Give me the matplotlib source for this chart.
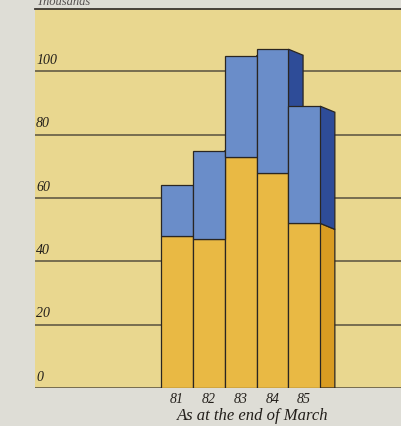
import numpy as np
import matplotlib
matplotlib.use('Agg')
import matplotlib.pyplot as plt
from matplotlib.patches import Polygon

# data (thousands)
years = ['81', '82', '83', '84', '85']
lower = [48, 47, 73, 68, 52]      # yellow part
total = [64, 75, 105, 107, 89]    # top of blue part
yticks = [0, 20, 40, 60, 80, 100]

bg_outer = '#deddd6'
bg_panel = '#e9d78f'
yel_front = '#e9b944'
yel_side = '#d99c22'
blue_front = '#6a8dc9'
blue_side = '#2e4c98'
edge = '#2a2622'

fig = plt.figure(figsize=(4.01, 4.27), dpi=100, facecolor=bg_outer)
ax = fig.add_axes([35 / 401, 38 / 427, 366 / 401, 379 / 427])
ax.set_facecolor(bg_panel)
ax.set_xlim(-4.47, 7.04)
ax.set_ylim(0, 119.7)

for v in yticks:
    ax.axhline(v, color='#57503f', lw=1.1, zorder=1)
    ax.text(0.003, v + 1.7, str(v), transform=ax.get_yaxis_transform(),
            family='Liberation Serif', style='italic', fontsize=10,
            color='#221e1a', va='bottom', ha='left')

x = np.arange(len(years))
w = 1.0
dx, dy = 0.46, -1.9

# side faces first, so the next bar's front hides them
for i in range(len(years)):
    r = x[i] + w / 2
    lo, hi = lower[i], total[i]
    ax.add_patch(Polygon([(r, 0), (r, lo), (r + dx, lo + dy), (r + dx, 0)],
                         closed=True, fc=yel_side, ec=edge, lw=0.9, zorder=2))
    ax.add_patch(Polygon([(r, lo), (r, hi), (r + dx, hi + dy), (r + dx, lo + dy)],
                         closed=True, fc=blue_side, ec=edge, lw=0.9, zorder=2))

ax.bar(x, lower, width=w, color=yel_front, edgecolor=edge, lw=0.9, zorder=3)
ax.bar(x, np.subtract(total, lower), bottom=lower, width=w,
       color=blue_front, edgecolor=edge, lw=0.9, zorder=3)

ax.set_xticks([])
ax.set_yticks([])
for s in ['left', 'right', 'bottom']:
    ax.spines[s].set_visible(False)
ax.spines['top'].set_color('#3a3530')
ax.spines['top'].set_linewidth(1.3)

for i, lab in enumerate(years):
    fig.text((177 + 31.8 * i) / 401, 1 - 400 / 427, lab,
             family='Liberation Serif', style='italic', fontsize=10,
             color='#221e1a', ha='center', va='center')
fig.text(252.5 / 401, 1 - 416 / 427, 'As at the end of March',
         family='Liberation Serif', style='italic', fontsize=12,
         color='#221e1a', ha='center', va='center')
fig.text(36 / 401, 1 - 2 / 427, 'Thousands', family='Liberation Serif',
         style='italic', fontsize=9, color='#555050', ha='left', va='center')

fig.savefig('out.png', dpi=100, facecolor=bg_outer)
